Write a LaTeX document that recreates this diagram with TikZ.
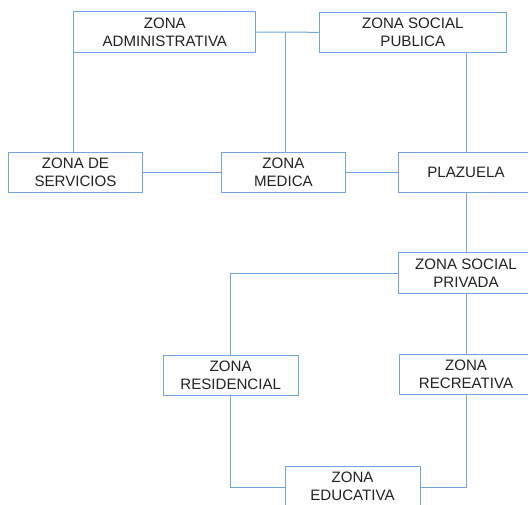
\documentclass[tikz,border=0pt]{standalone}
\usepackage{fontspec}
\setmainfont{Liberation Sans}
\definecolor{edgeblue}{RGB}{112,166,221}
\definecolor{labelgray}{RGB}{34,34,34}
\begin{document}
\begin{tikzpicture}[x=1pt,y=-1pt,
  zone/.style={draw=edgeblue, line width=1pt, fill=white, align=center,
    inner sep=0pt, minimum height=40.4pt, text=labelgray,
    font=\fontsize{15.1}{18}\selectfont},
  link/.style={draw=edgeblue, line width=1pt}]
\useasboundingbox (0,0) rectangle (528,504);
\clip (0,0) rectangle (528,504);

% zones
\node[zone, minimum width=182.2pt] (admin) at (164.8,32) {ZONA\\ADMINISTRATIVA};
\node[zone, minimum width=187.2pt] (publica) at (412.8,32.3) {ZONA SOCIAL\\PUBLICA};
\node[zone, minimum width=134.7pt] (servicios) at (75.5,172.7) {ZONA DE\\SERVICIOS};
\node[zone, minimum width=124.3pt] (medica) at (283.4,172.7) {ZONA\\MEDICA};
\node[zone, minimum width=135.2pt] (plazuela) at (466,172.7) {PLAZUELA};
\node[zone, minimum width=135.2pt] (privada) at (466,273.1) {ZONA SOCIAL\\PRIVADA};
\node[zone, minimum width=134.7pt] (residencial) at (230.7,375.4) {ZONA\\RESIDENCIAL};
\node[zone, minimum width=134pt] (recreativa) at (466,374.4) {ZONA\\RECREATIVA};
\node[zone, minimum width=135pt] (educativa) at (352.5,486.2) {ZONA\\EDUCATIVA};

% connectors
\coordinate (hub) at (285.2,32.2);
\draw[link] (admin.east) -- (publica.west);
\draw[link] (hub) -- (hub |- medica.north);
\draw[link] (admin.south west) -- (admin.south west |- servicios.north);
\draw[link] (servicios.east) -- (medica.west);
\draw[link] (medica.east) -- (plazuela.west);
\draw[link] (plazuela.north |- publica.south) -- (plazuela.north);
\draw[link] (plazuela.south) -- (privada.north);
\draw[link] (privada.west) -| (residencial.north);
\draw[link] (privada.south) -- (recreativa.north);
\draw[link] (residencial.south) |- ([yshift=-1.2pt]educativa.west);
\draw[link] (recreativa.south) |- ([yshift=-1.2pt]educativa.east);
\end{tikzpicture}
\end{document}
